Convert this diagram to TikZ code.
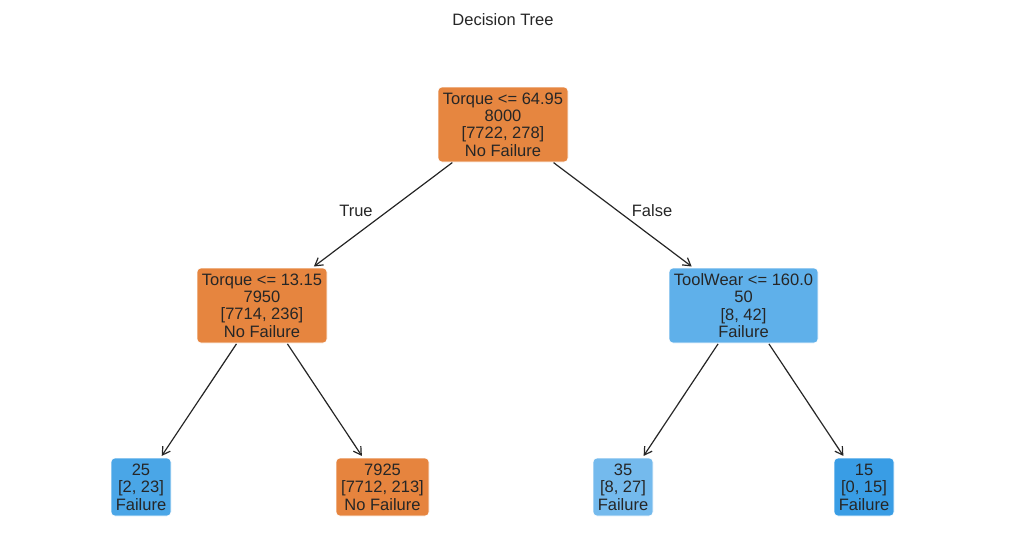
\documentclass[tikz,border=0pt]{standalone}
\usepackage{fontspec}
\setmainfont{Liberation Sans}
\usetikzlibrary{arrows.meta}
\definecolor{txt}{RGB}{38,38,38}
\definecolor{cRoot}{RGB}{230,134,64}
\definecolor{cLeft}{RGB}{230,133,63}
\definecolor{cRight}{RGB}{95,176,234}
\definecolor{cA}{RGB}{74,166,231}
\definecolor{cB}{RGB}{230,132,62}
\definecolor{cC}{RGB}{116,186,237}
\definecolor{cD}{RGB}{57,157,229}
\tikzset{
  tnode/.style={rectangle, rounded corners=4pt, draw=white, line width=0.6pt, inner sep=0pt, outer sep=0pt,
    align=center, text=txt, font=\fontsize{16.5}{17.4}\selectfont, minimum height=75pt},
  leaf/.style={tnode, minimum height=58pt, minimum width=60pt},
  edge/.style={draw=txt, line width=1.2pt, -{Straight Barb[length=7.5pt,width=9pt,line width=1.2pt]}, shorten >=2.5pt, shorten <=1pt},
  lab/.style={text=txt, font=\fontsize{16.5}{17.4}\selectfont, inner sep=0pt}
}
\begin{document}
\begin{tikzpicture}[x=1pt,y=-1pt]
\useasboundingbox (0,0) rectangle (1035,549);
\node[lab] (title) at (503,20) {Decision Tree};
\node[tnode, fill=cRoot, minimum width=130pt] (root) at (503,124.5) {Torque <= 64.95\\8000\\{[7722, 278]}\\No Failure};
\node[tnode, fill=cLeft, minimum width=130pt] (left) at (262,305.5) {Torque <= 13.15\\7950\\{[7714, 236]}\\No Failure};
\node[tnode, fill=cRight, minimum width=149pt] (right) at (743.5,305.5) {ToolWear <= 160.0\\50\\{[8, 42]}\\Failure};
\node[leaf, fill=cA] (l1) at (141,487) {25\\{[2, 23]}\\Failure};
\node[leaf, fill=cB, minimum width=93pt] (l2) at (382.5,487) {7925\\{[7712, 213]}\\No Failure};
\node[leaf, fill=cC] (l3) at (623,487) {35\\{[8, 27]}\\Failure};
\node[leaf, fill=cD] (l4) at (864,487) {15\\{[0, 15]}\\Failure};
\draw[edge] (root) -- (left);
\draw[edge] (root) -- (right);
\draw[edge] (left) -- (l1);
\draw[edge] (left) -- (l2);
\draw[edge] (right) -- (l3);
\draw[edge] (right) -- (l4);
\node[lab] (true) at (356,211) {True};
\node[lab] (false) at (652,211) {False};
\end{tikzpicture}
\end{document}
